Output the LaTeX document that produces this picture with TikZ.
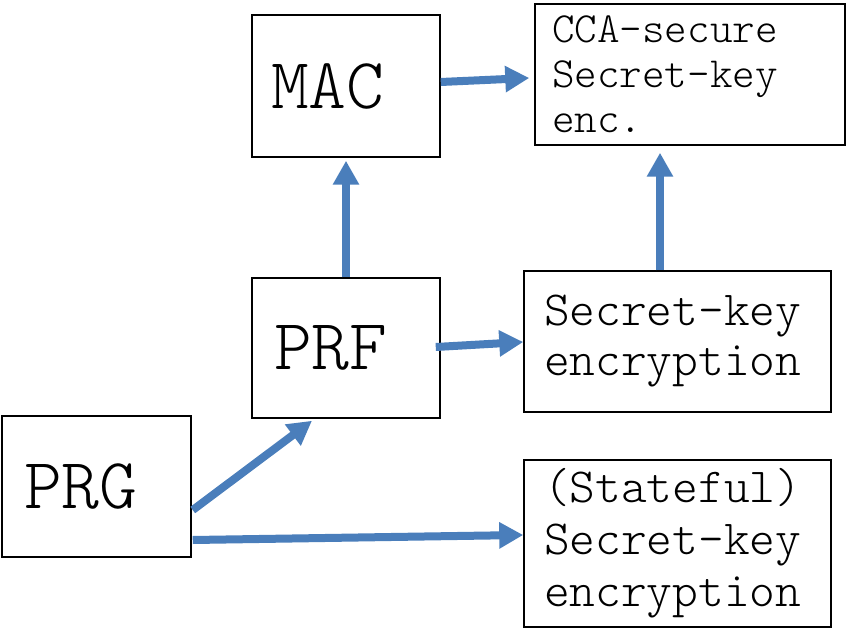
\documentclass[tikz,border=0pt]{standalone}
\usepackage{fontspec}
\setmonofont{Latin Modern Mono Light}
\usetikzlibrary{arrows.meta}
\definecolor{arrowblue}{HTML}{4A7EBB}
\begin{document}
\begin{tikzpicture}[x=1pt,y=-1pt,
  box/.style={draw=black, line width=1.5pt, inner ysep=0pt, align=left, anchor=center, font=\ttfamily},
  big/.style={font=\ttfamily\fontsize{72}{80}\selectfont},
  mid/.style={font=\ttfamily\fontsize{49}{50}\selectfont},
  small/.style={font=\ttfamily\fontsize{43}{45}\selectfont},
  link/.style={draw=arrowblue, line width=8pt, -{Triangle[length=24pt,width=25pt]}}
]
\useasboundingbox (0,0) rectangle (846,631);

% primitives and constructions
\node[box, big, minimum height=142pt, text width=150pt, inner xsep=19pt] (mac) at (346,86) {MAC};
\node[box, small, minimum height=141pt, text width=276pt, inner xsep=17pt] (cca) at (690,74.5) {CCA-secure\\Secret-key\\enc.};
\node[box, big, minimum height=140pt, text width=144pt, inner xsep=22pt] (prf) at (346,348) {PRF};
\node[box, mid, minimum height=141pt, text width=267pt, inner xsep=20pt] (ske) at (677.5,341.5) {Secret-key\\encryption};
\node[box, big, minimum height=141pt, text width=145pt, inner xsep=22pt] (prg) at (96.5,486.5) {PRG};
\node[box, font=\ttfamily\fontsize{49}{52}\selectfont, minimum height=167pt, text width=267pt, inner xsep=20pt] (st) at (677.5,543.5) {(Stateful)\\Secret-key\\encryption};

% implications
\draw[link] ([yshift=4pt]mac.east) -- ([xshift=-5pt,yshift=-3.5pt]cca.west);
\draw[link] (prf.north) -- ([yshift=-3pt]mac.south);
\draw[link] ([xshift=-17.5pt]ske.north) -- ([xshift=-30pt,yshift=-7pt]cca.south);
\draw[link] ([xshift=-5pt,yshift=1pt]prf.east) -- ([yshift=-0.5pt]ske.west);
\draw[link] ([xshift=1pt,yshift=-23.5pt]prg.east) -- ([xshift=-34pt,yshift=-2pt]prf.south);
\draw[link] ([xshift=1pt,yshift=-53.5pt]prg.east) -- ([yshift=8.5pt]st.west);
\end{tikzpicture}
\end{document}
